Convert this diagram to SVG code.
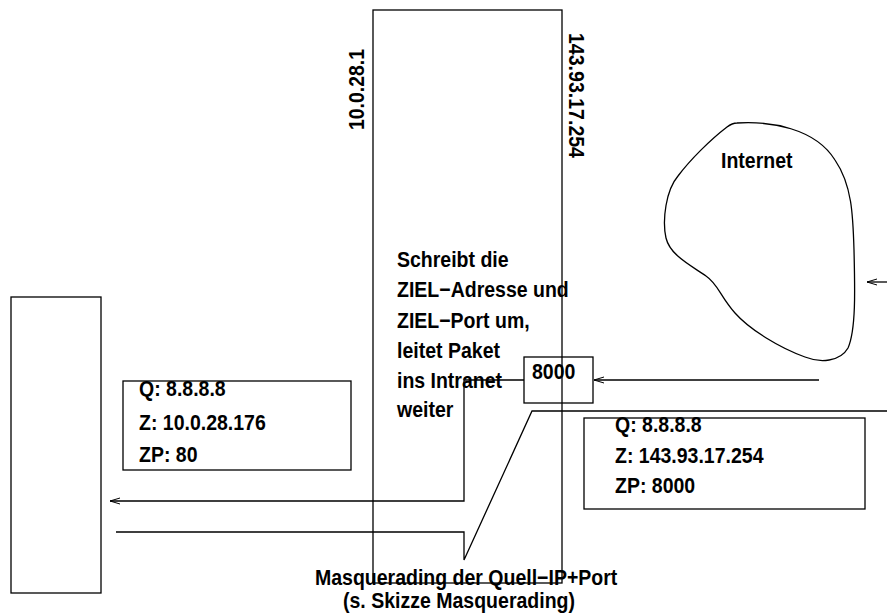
<svg xmlns="http://www.w3.org/2000/svg" width="887" height="613" viewBox="0 0 887 613">
<style>
.box{fill:none;stroke:#000;stroke-width:1.3}
.ln{fill:none;stroke:#000;stroke-width:1.3}
text{font-family:"Liberation Sans",Arial,Helvetica,sans-serif;font-weight:bold;font-size:22px;fill:#000}
</style>
<defs>
<marker id="arr" markerUnits="userSpaceOnUse" markerWidth="14" markerHeight="10" viewBox="-12 -5 14 10" refX="0" refY="0" orient="auto">
<path d="M-10,-3 L0,0 L-10,3" fill="none" stroke="#000" stroke-width="1"/>
</marker>
</defs>
<rect width="887" height="613" fill="#fff"/>
<g id="router">
<rect class="box" x="373" y="10" width="189" height="573"/>
<text transform="translate(364,130) rotate(-90)" font-size="20" textLength="81" lengthAdjust="spacingAndGlyphs">10.0.28.1</text>
<text transform="translate(569,33) rotate(90)" font-size="20" textLength="125" lengthAdjust="spacingAndGlyphs">143.93.17.254</text>
<text x="397" y="267" textLength="111.6" lengthAdjust="spacingAndGlyphs">Schreibt die</text>
<text x="397" y="297" textLength="171.8" lengthAdjust="spacingAndGlyphs">ZIEL−Adresse und</text>
<text x="397" y="328" textLength="132.7" lengthAdjust="spacingAndGlyphs">ZIEL−Port um,</text>
<text x="397" y="358" textLength="103" lengthAdjust="spacingAndGlyphs">leitet Paket</text>
<text x="397" y="388" textLength="105" lengthAdjust="spacingAndGlyphs">ins Intranet</text>
<text x="397" y="417" textLength="56.4" lengthAdjust="spacingAndGlyphs">weiter</text>
</g>
<g id="port8000">
<rect class="box" x="524" y="357" width="69" height="46"/>
<text x="532" y="379" textLength="43.4" lengthAdjust="spacingAndGlyphs">8000</text>
</g>
<g id="host">
<rect class="box" x="11" y="297" width="90" height="296"/>
</g>
<g id="packet-intranet">
<rect class="box" x="123" y="381" width="228" height="89"/>
<text x="139" y="396" textLength="86.7" lengthAdjust="spacingAndGlyphs">Q: 8.8.8.8</text>
<text x="139" y="430" textLength="126.8" lengthAdjust="spacingAndGlyphs">Z: 10.0.28.176</text>
<text x="139" y="462" textLength="58.5" lengthAdjust="spacingAndGlyphs">ZP: 80</text>
</g>
<g id="packet-internet">
<rect class="box" x="584" y="418" width="281" height="91"/>
<text x="615" y="432" textLength="86.7" lengthAdjust="spacingAndGlyphs">Q: 8.8.8.8</text>
<text x="615" y="463" textLength="148.5" lengthAdjust="spacingAndGlyphs">Z: 143.93.17.254</text>
<text x="615" y="493" textLength="80.2" lengthAdjust="spacingAndGlyphs">ZP: 8000</text>
</g>
<g id="internet">
<path class="box" d="M737,123 C770,121 815,128 835,160 C852,185 853,215 854,250 C855,290 856,330 848,348 C840,362 820,363 805,357 C780,348 750,330 735,313 C720,296 718,284 706,276 C690,265 670,255 666,238 C662,220 666,190 678,176 C690,160 710,140 727,127 C731,124 734,123 737,123 Z"/>
<text x="721" y="168" textLength="71.5" lengthAdjust="spacingAndGlyphs">Internet</text>
</g>
<g id="masq-label">
<text x="315" y="585" textLength="302.3" lengthAdjust="spacingAndGlyphs">Masquerading der Quell−IP+Port</text>
<text x="343" y="608" textLength="232" lengthAdjust="spacingAndGlyphs">(s. Skizze Masquerading)</text>
</g>
<g id="connectors">
<path class="ln" d="M887,282 L867,282" marker-end="url(#arr)"/>
<path class="ln" d="M819,380 L594,380" marker-end="url(#arr)"/>
<path class="ln" d="M524,380 L464,380 L464,501 L110,501" marker-end="url(#arr)"/>
<path class="ln" d="M116,532 L464,532 L464,560 L532,411 L887,411"/>
</g>
</svg>
